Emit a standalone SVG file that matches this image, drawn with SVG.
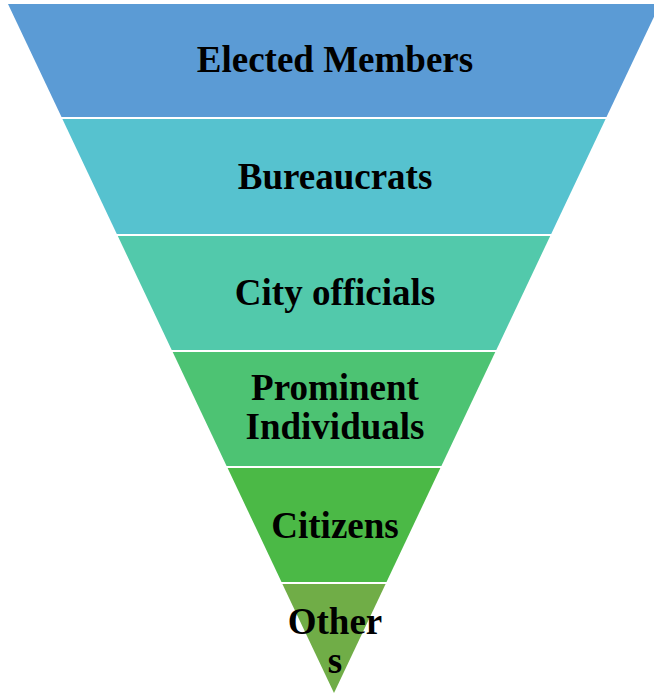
<svg xmlns="http://www.w3.org/2000/svg" width="654" height="693" viewBox="0 0 654 693">
<style>
.lbl{font-family:"Liberation Serif","Times New Roman",serif;font-weight:bold;font-size:37px;fill:#000;text-anchor:middle}
</style>
<rect width="654" height="693" fill="#fff"/>
<g id="n1"><polygon points="8,4 660,4 606.5,117 61.5,117" fill="#5B9BD5"/><text class="lbl" x="335" y="72">Elected Members</text></g>
<g id="n2"><polygon points="62.4,119 605.6,119 551.2,234 116.8,234" fill="#56C2CF"/><text class="lbl" x="335" y="189">Bureaucrats</text></g>
<g id="n3"><polygon points="117.8,236 550.2,236 496.3,350 171.7,350" fill="#52C9AB"/><text class="lbl" x="335" y="305">City officials</text></g>
<g id="n4"><polygon points="172.7,352 495.3,352 441.4,466 226.6,466" fill="#4DC373"/><text class="lbl" x="335" y="400">Prominent</text><text class="lbl" x="335" y="439">Individuals</text></g>
<g id="n5"><polygon points="227.6,468 440.4,468 386.5,582 281.5,582" fill="#4BB946"/><text class="lbl" x="335" y="538">Citizens</text></g>
<g id="n6"><polygon points="282.4,584 385.6,584 334,693" fill="#70AD47"/><text class="lbl" x="335" y="634">Other</text><text class="lbl" x="335" y="673">s</text></g>
<g id="connectors"/>
</svg>
